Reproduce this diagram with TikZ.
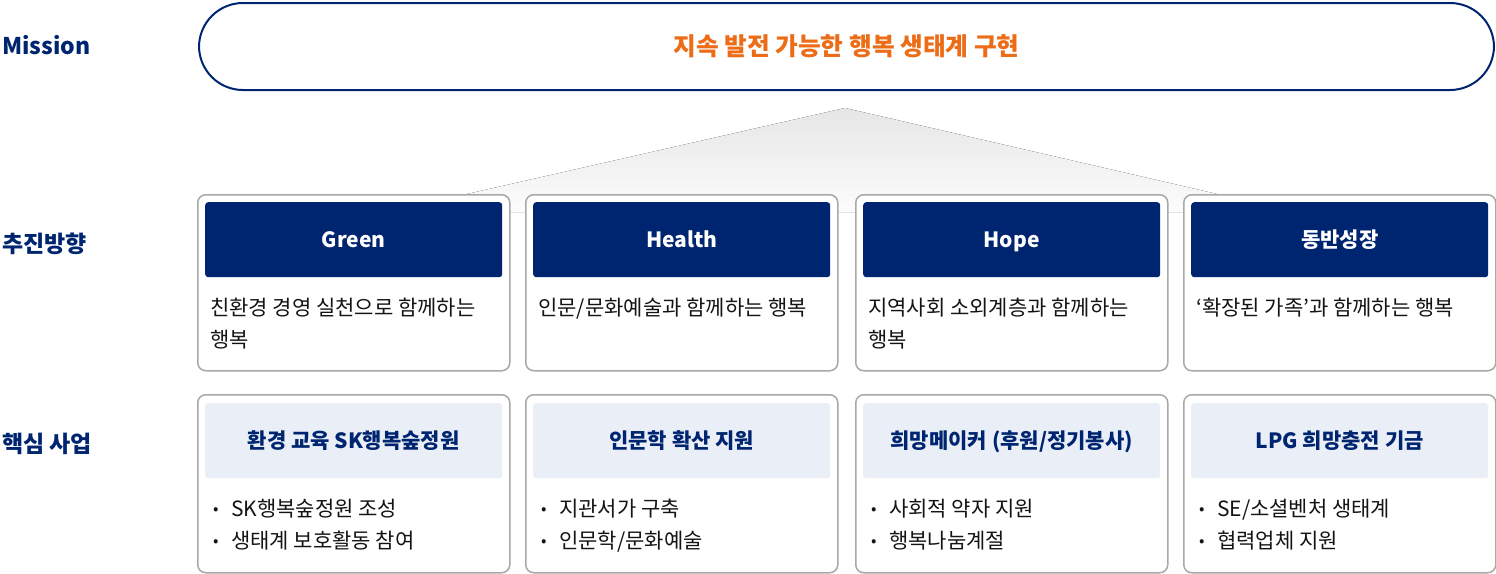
\documentclass[tikz,border=0pt]{standalone}
\usepackage{fontspec}
\setmainfont{Noto Sans CJK KR}
\definecolor{navy}{RGB}{0,37,112}
\definecolor{mango}{RGB}{236,108,24}
\definecolor{boxgray}{RGB}{168,168,168}
\definecolor{lightblue}{RGB}{233,238,247}
\definecolor{triTop}{RGB}{230,230,230}
\definecolor{triBot}{RGB}{252,252,252}
\definecolor{ink}{RGB}{20,20,20}
\begin{document}
\begin{tikzpicture}[x=1pt,y=-1pt,
  sidelabel/.style={anchor=west, inner sep=0, text=navy, text height=16.5pt, text depth=0pt, font=\fontsize{23}{26}\selectfont\bfseries},
  outerbox/.style={draw=boxgray, line width=1.5pt, rounded corners=8pt, fill=white, minimum width=312pt, anchor=north west, inner sep=0},
  headbase/.style={rounded corners=3pt, minimum width=297pt, minimum height=75pt, anchor=north west, inner sep=0, text height=15pt, text depth=0pt, font=\fontsize{21}{24}\selectfont\bfseries},
  darkhead/.style={headbase, fill=navy, text=white},
  lighthead/.style={headbase, fill=lightblue, text=navy},
  desc/.style={anchor=base west, inner sep=0, text=ink, font=\fontsize{21}{24}\selectfont},
  bullet/.style={anchor=base west, inner sep=0, text=ink, font=\fontsize{21}{24}\selectfont}
]
\useasboundingbox (0,0) rectangle (1496,573);

% side labels
\node[sidelabel] (lmission) at (2,46) {Mission};
\node[sidelabel] (ldir) at (2,244) {추진방향};
\node[sidelabel] (lcore) at (2,444) {핵심 사업};

% mission pill
\node[draw=navy, line width=2pt, rounded corners=44pt, minimum width=1295pt, minimum height=87pt, anchor=north west, inner sep=0,
  text=mango, text height=17.8pt, text depth=0pt, font=\fontsize{24.7}{28}\selectfont\bfseries] (mission) at (198,2) {지속 발전 가능한 행복 생태계 구현};

% gradient triangle
\fill[top color=triTop, bottom color=triBot] (845,108) -- (388,212) -- (1295,212) -- cycle;

% columns
\foreach \i/\x in {1/197, 2/525, 3/855, 4/1183}{
  \node[outerbox, minimum height=176pt] (dir\i) at (\x,194) {};
  \node[outerbox, minimum height=178pt] (core\i) at (\x,394) {};
}

% row 1 headers
\node[darkhead] (h1) at (205,202) {Green};
\node[darkhead] (h2) at (533,202) {Health};
\node[darkhead] (h3) at (863,202) {Hope};
\node[darkhead] (h4) at (1191,202) {동반성장};

% row 1 descriptions
\node[desc] (d1a) at (210,315) {친환경 경영 실천으로 함께하는};
\node[desc] (d1b) at (210,347) {행복};
\node[desc] (d2a) at (538,315) {인문/문화예술과 함께하는 행복};
\node[desc] (d3a) at (868,315) {지역사회 소외계층과 함께하는};
\node[desc] (d3b) at (868,347) {행복};
\node[desc] (d4a) at (1196,315) {‘확장된 가족’과 함께하는 행복};

% row 2 headers
\node[lighthead] (c1) at (205,403) {환경 교육 SK행복숲정원};
\node[lighthead] (c2) at (533,403) {인문학 확산 지원};
\node[lighthead] (c3) at (863,403) {희망메이커 (후원/정기봉사)};
\node[lighthead] (c4) at (1191,403) {LPG 희망충전 기금};

% row 2 bullets
\newcommand{\bul}{\makebox[18pt][l]{\fontsize{16}{16}\selectfont\raisebox{1.5pt}{•}}}
\node[bullet] (b1a) at (213,516) {\bul SK행복숲정원 조성};
\node[bullet] (b1b) at (213,548) {\bul 생태계 보호활동 참여};
\node[bullet] (b2a) at (541,516) {\bul 지관서가 구축};
\node[bullet] (b2b) at (541,548) {\bul 인문학/문화예술};
\node[bullet] (b3a) at (871,516) {\bul 사회적 약자 지원};
\node[bullet] (b3b) at (871,548) {\bul 행복나눔계절};
\node[bullet] (b4a) at (1199,516) {\bul SE/소셜벤처 생태계};
\node[bullet] (b4b) at (1199,548) {\bul 협력업체 지원};
\end{tikzpicture}
\end{document}
